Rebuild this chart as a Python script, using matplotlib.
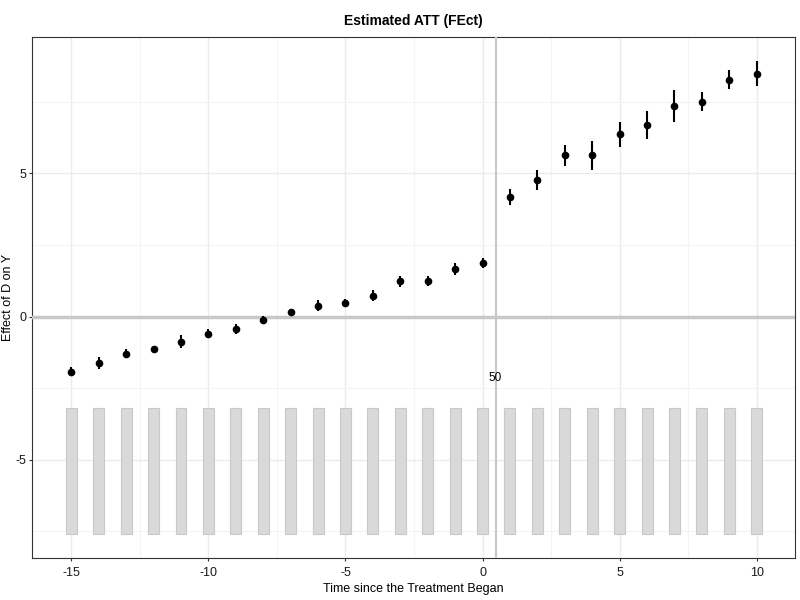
import matplotlib
matplotlib.use("Agg")
import matplotlib.pyplot as plt
import numpy as np

plt.rcParams["font.family"] = ["Liberation Sans", "DejaVu Sans"]
plt.rcParams["axes.unicode_minus"] = False

# --- data ---
periods = list(range(-15, 11))
att = [-1.93, -1.62, -1.29, -1.14, -0.87, -0.59, -0.43, -0.11, 0.15, 0.38,
       0.48, 0.73, 1.23, 1.25, 1.66, 1.88, 4.19, 4.77, 5.63, 5.63,
       6.37, 6.70, 7.36, 7.51, 8.27, 8.49]
ci_half = [0.16, 0.20, 0.17, 0.13, 0.23, 0.16, 0.19, 0.12, 0.13, 0.19,
           0.15, 0.20, 0.19, 0.18, 0.22, 0.18, 0.28, 0.36, 0.38, 0.52,
           0.44, 0.49, 0.55, 0.32, 0.33, 0.43]
count_bar_top = -3.2
count_bar_bottom = -7.6
count_label = "50"

fig = plt.figure(figsize=(8, 6), dpi=100)
ax = fig.add_axes([0.0405, 0.07, 0.953, 0.868])

x = np.array(periods)
y = np.array(att)
err = np.array(ci_half)

# count bars at the bottom
ax.bar(x, count_bar_top - count_bar_bottom, width=0.4, bottom=count_bar_bottom,
       color="#d9d9d9", edgecolor="#c8c8c8", linewidth=0.8, zorder=2)

# reference lines
ax.axhline(0, color="#c8c8c8", linewidth=2.5, zorder=3)
ax.axvline(0.5, color="#c8c8c8", linewidth=1.5, zorder=3)
ax.text(0.45, -2.13, count_label, ha="center", va="center", fontsize=8.5, zorder=4)

# estimates with intervals
ax.errorbar(x, y, yerr=err, fmt="o", color="black", markersize=4.5,
            elinewidth=1.5, capsize=0, zorder=5)

ax.set_xlim(-16.42, 11.39)
ax.set_ylim(-8.43, 9.76)
ax.set_xticks([-15, -10, -5, 0, 5, 10])
ax.set_yticks([-5, 0, 5])
ax.set_xticks([-12.5, -7.5, -2.5, 2.5, 7.5], minor=True)
ax.set_yticks([-7.5, -2.5, 2.5, 7.5], minor=True)
ax.grid(True, which="major", color="#ebebeb", linewidth=1.0, zorder=0)
ax.grid(True, which="minor", color="#f4f4f4", linewidth=0.8, zorder=0)
ax.set_axisbelow(True)
ax.tick_params(which="major", length=2.5, width=0.8, color="#333333", pad=2,
               labelsize=9, labelcolor="#1a1a1a")
ax.tick_params(axis="x", which="major", pad=4)
ax.tick_params(which="minor", length=0)
for s in ax.spines.values():
    s.set_color("#333333")
    s.set_linewidth(0.8)

ax.set_title("Estimated ATT (FEct)", fontsize=10, fontweight="bold", pad=9)
ax.set_xlabel("Time since the Treatment Began", fontsize=9, labelpad=3)
ax.set_ylabel("Effect of D on Y", fontsize=9)
ax.yaxis.set_label_coords(-0.024, 0.5)

fig.savefig("out.png", dpi=100)
